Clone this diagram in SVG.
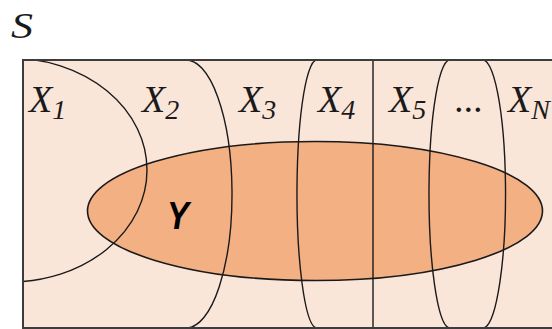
<svg xmlns="http://www.w3.org/2000/svg" width="552" height="329" viewBox="0 0 552 329">
  <defs>
    <clipPath id="box">
      <rect x="23" y="60" width="540" height="268"/>
    </clipPath>
    <style>
      .curve { fill: none; stroke: #1a1a1a; stroke-width: 1.4; }
      .lbl { font-family: "Liberation Serif", "Times New Roman", serif; font-style: italic; font-size: 38px; fill: #1a1a1a; }
      .sub { font-size: 28px; }
    </style>
  </defs>
  <rect width="552" height="329" fill="#ffffff"/>
  <text x="11" y="38" class="lbl" style="font-size:36px" textLength="22" lengthAdjust="spacingAndGlyphs">S</text>

  <g id="universe">
    <rect x="23" y="60" width="540" height="268" fill="#FAE5D9" stroke="none"/>
  </g>

  <g id="Y">
    <ellipse cx="315" cy="211" rx="227.5" ry="69.5" fill="#F3B083" stroke="#1a1a1a" stroke-width="1.6"/>
    <text x="178" y="229" text-anchor="middle" font-family="Liberation Sans, Arial, sans-serif" font-weight="bold" font-style="italic" font-size="38" textLength="22" lengthAdjust="spacingAndGlyphs" fill="#000">Y</text>
  </g>

  <g id="connectors" clip-path="url(#box)">
    <ellipse id="X1-boundary" class="curve" cx="10" cy="170" rx="137" ry="112"/>
    <path id="X2-boundary" class="curve" d="M185,60 A46,134 0 0 1 187,328"/>
    <path id="X4-boundary" class="curve" d="M318,60 A20,134 0 0 0 316,328"/>
    <path id="X5-boundary" class="curve" d="M373,60 V328"/>
    <path id="dots-left" class="curve" d="M451,60 A21,134 0 0 0 449,328"/>
    <path id="dots-right" class="curve" d="M481,60 A23,134 0 0 1 484,328"/>
  </g>

  <g id="X1"><text x="29" y="112" class="lbl">X<tspan class="sub" dy="7">1</tspan></text></g>
  <g id="X2"><text x="142" y="112" class="lbl">X<tspan class="sub" dy="7">2</tspan></text></g>
  <g id="X3"><text x="239" y="112" class="lbl">X<tspan class="sub" dy="7">3</tspan></text></g>
  <g id="X4"><text x="318" y="112" class="lbl">X<tspan class="sub" dy="7">4</tspan></text></g>
  <g id="X5"><text x="389" y="112" class="lbl">X<tspan class="sub" dy="7">5</tspan></text></g>
  <g id="Xdots"><text x="455" y="112" class="lbl">...</text></g>
  <g id="XN"><text x="508" y="112" class="lbl">X<tspan class="sub" dy="7">N</tspan></text></g>

  <g id="border">
    <path d="M563,60 H23 V328 H563" fill="none" stroke="#3c3c3c" stroke-width="2"/>
  </g>
</svg>
